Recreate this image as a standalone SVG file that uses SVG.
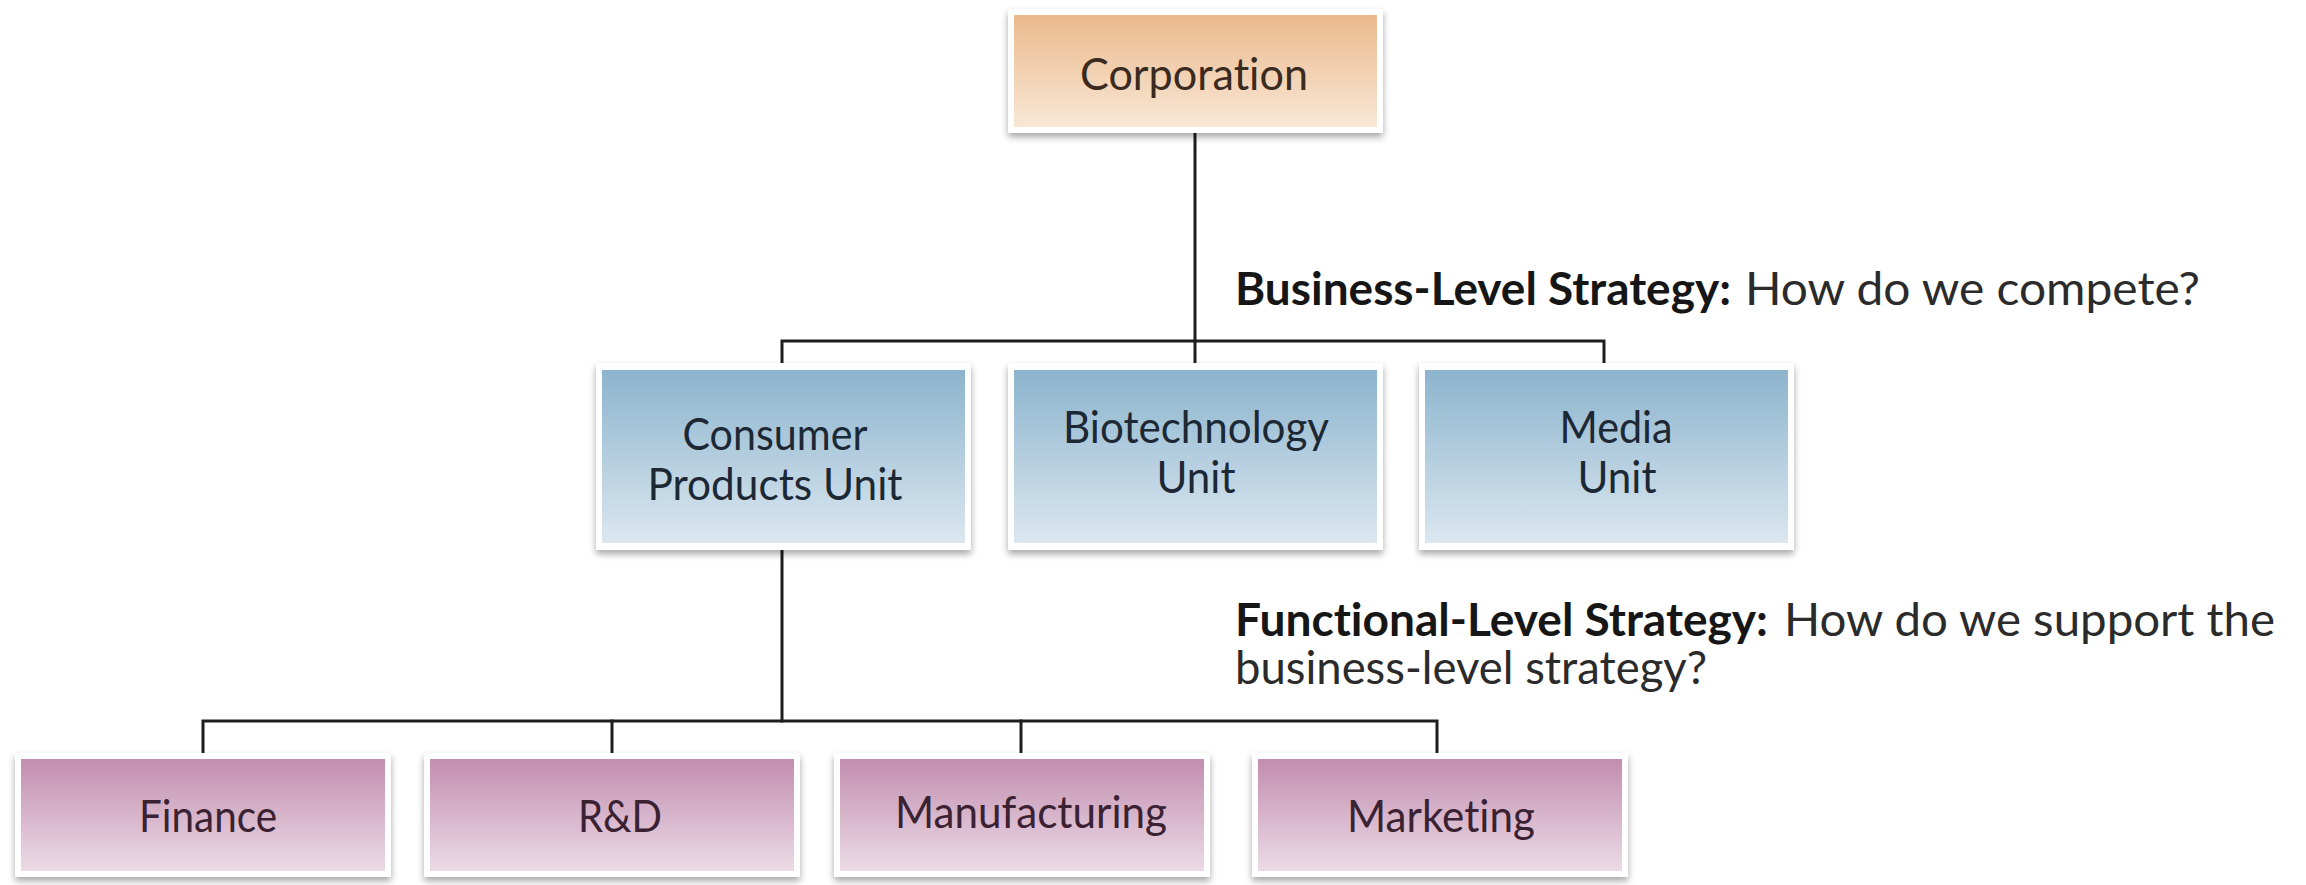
<svg xmlns="http://www.w3.org/2000/svg" width="2306" height="885" viewBox="0 0 2306 885">
  <style>
    text { font-variant-ligatures: none; font-feature-settings: "liga" 0, "dlig" 0; }
    .frame { fill: #ffffff; filter: url(#shadow); }
    .label { font-family: Lato, "Liberation Sans", Arial, sans-serif; font-size: 45px; text-anchor: middle; }
    .corp-text { fill: #3a2a20; }
    .unit-text { fill: #1d2835; }
    .func-text { fill: #3a2233; }
    .note { font-family: Lato, "Liberation Sans", Arial, sans-serif; font-size: 46px; fill: #2b2b2b; }
    .note-b { font-weight: bold; fill: #161616; }
    .wire { stroke: #1e1e1e; stroke-width: 3; fill: none; stroke-linecap: square; }
  </style>
  <defs>
    <linearGradient id="gOrange" x1="0" y1="0" x2="0" y2="1">
      <stop offset="0" stop-color="#ebba8c"/>
      <stop offset="1" stop-color="#f8e7d6"/>
    </linearGradient>
    <linearGradient id="gBlue" x1="0" y1="0" x2="0" y2="1">
      <stop offset="0" stop-color="#8cb4cd"/>
      <stop offset="1" stop-color="#dbe7f0"/>
    </linearGradient>
    <linearGradient id="gPink" x1="0" y1="0" x2="0" y2="1">
      <stop offset="0" stop-color="#c28eaf"/>
      <stop offset="1" stop-color="#ecdbe6"/>
    </linearGradient>
    <filter id="shadow" x="-10%" y="-15%" width="120%" height="135%">
      <feDropShadow dx="0" dy="4" stdDeviation="3.5" flood-color="#000" flood-opacity="0.35"/>
    </filter>
  </defs>

  <rect width="2306" height="885" fill="#ffffff"/>

  <!-- connectors -->
  <g id="connectors">
    <path class="wire" d="M1195 133 V341"/>
    <path class="wire" d="M782 363 V341 H1604 V363"/>
    <path class="wire" d="M1195 341 V363"/>
    <path class="wire" d="M782 550 V721"/>
    <path class="wire" d="M203 753 V721 H1437 V753"/>
    <path class="wire" d="M612 721 V753"/>
    <path class="wire" d="M1021 721 V753"/>
  </g>

  <!-- top level -->
  <g id="corporation">
    <rect class="frame" x="1008" y="9" width="375" height="124"/>
    <rect x="1014" y="15" width="363" height="112" fill="url(#gOrange)"/>
    <text class="label corp-text" x="1194" y="90" textLength="228" lengthAdjust="spacingAndGlyphs">Corporation</text>
  </g>

  <!-- business units -->
  <g id="consumer-products">
    <rect class="frame" x="596" y="363" width="375" height="187"/>
    <rect x="602" y="370" width="363" height="173" fill="url(#gBlue)"/>
    <text class="label unit-text" x="775" y="450" textLength="185" lengthAdjust="spacingAndGlyphs">Consumer</text>
    <text class="label unit-text" x="775" y="500" textLength="255" lengthAdjust="spacingAndGlyphs">Products Unit</text>
  </g>
  <g id="biotechnology">
    <rect class="frame" x="1008" y="363" width="375" height="187"/>
    <rect x="1014" y="370" width="363" height="173" fill="url(#gBlue)"/>
    <text class="label unit-text" x="1196" y="443" textLength="266" lengthAdjust="spacingAndGlyphs">Biotechnology</text>
    <text class="label unit-text" x="1196" y="493" textLength="79" lengthAdjust="spacingAndGlyphs">Unit</text>
  </g>
  <g id="media">
    <rect class="frame" x="1419" y="363" width="375" height="187"/>
    <rect x="1425" y="370" width="363" height="173" fill="url(#gBlue)"/>
    <text class="label unit-text" x="1616" y="443" textLength="113" lengthAdjust="spacingAndGlyphs">Media</text>
    <text class="label unit-text" x="1617" y="493" textLength="79" lengthAdjust="spacingAndGlyphs">Unit</text>
  </g>

  <!-- functions -->
  <g id="finance">
    <rect class="frame" x="15" y="753" width="376" height="124"/>
    <rect x="21" y="759" width="364" height="112" fill="url(#gPink)"/>
    <text class="label func-text" x="208" y="832" textLength="138" lengthAdjust="spacingAndGlyphs">Finance</text>
  </g>
  <g id="rnd">
    <rect class="frame" x="424" y="753" width="376" height="124"/>
    <rect x="430" y="759" width="364" height="112" fill="url(#gPink)"/>
    <text class="label func-text" x="620" y="832" textLength="84" lengthAdjust="spacingAndGlyphs">R&amp;D</text>
  </g>
  <g id="manufacturing">
    <rect class="frame" x="834" y="753" width="376" height="124"/>
    <rect x="840" y="759" width="364" height="112" fill="url(#gPink)"/>
    <text class="label func-text" x="1031" y="828" textLength="272" lengthAdjust="spacingAndGlyphs">Manufacturing</text>
  </g>
  <g id="marketing">
    <rect class="frame" x="1252" y="753" width="376" height="124"/>
    <rect x="1258" y="759" width="364" height="112" fill="url(#gPink)"/>
    <text class="label func-text" x="1441" y="832" textLength="188" lengthAdjust="spacingAndGlyphs">Marketing</text>
  </g>

  <!-- strategy notes -->
  <g id="business-note">
    <text class="note note-b" x="1235" y="305" textLength="496" lengthAdjust="spacingAndGlyphs">Business-Level Strategy:</text>
    <text class="note" x="1745" y="305" textLength="455" lengthAdjust="spacingAndGlyphs">How do we compete?</text>
  </g>
  <g id="functional-note">
    <text class="note note-b" x="1235" y="636" textLength="533" lengthAdjust="spacingAndGlyphs">Functional-Level Strategy:</text>
    <text class="note" x="1784" y="636" textLength="491" lengthAdjust="spacingAndGlyphs">How do we support the</text>
    <text class="note" x="1235" y="684" textLength="472" lengthAdjust="spacingAndGlyphs">business-level strategy?</text>
  </g>
</svg>
